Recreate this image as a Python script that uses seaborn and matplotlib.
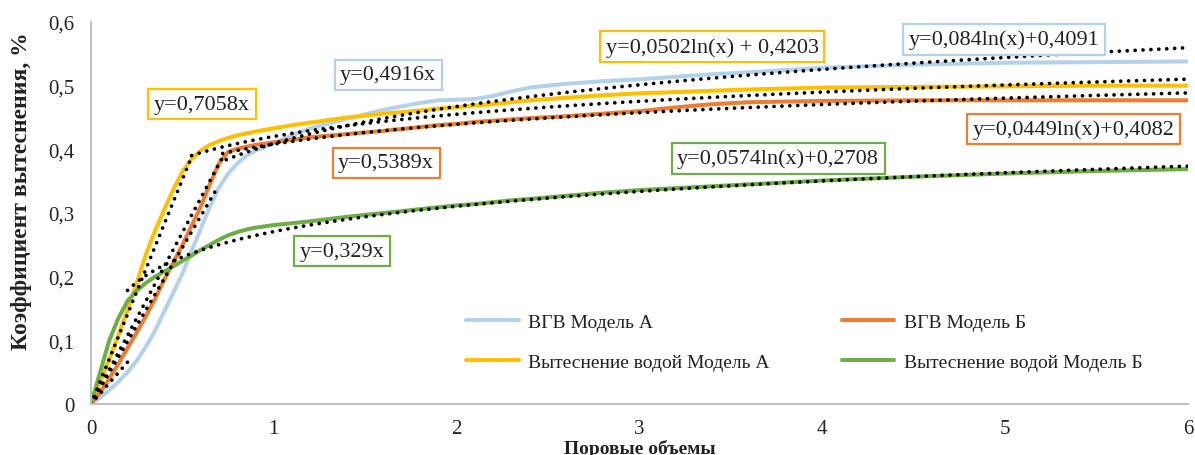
import numpy as np
import pandas as pd
import matplotlib
matplotlib.use("Agg")
import matplotlib.pyplot as plt
import seaborn as sns

# Pore volumes injected
pore_volumes = [0, 0.05, 0.1, 0.15, 0.2, 0.25, 0.3, 0.35, 0.4, 0.45, 0.5, 0.55, 0.6, 0.65,
                0.7, 0.75, 0.8, 0.85, 0.9, 1.0, 1.1, 1.2, 1.4, 1.6, 1.8, 1.9, 2.0, 2.1,
                2.2, 2.3, 2.4, 2.6, 2.8, 3.0, 3.2, 3.4, 3.6, 4.0, 4.5, 5.0, 5.5, 6.0]

# Displacement coefficient for each experiment
wag_model_a = [0, 0.01, 0.022, 0.035, 0.05, 0.068, 0.09, 0.115, 0.145, 0.175, 0.205, 0.24,
               0.275, 0.31, 0.34, 0.362, 0.378, 0.39, 0.398, 0.41, 0.422, 0.433, 0.448,
               0.462, 0.473, 0.477, 0.478, 0.479, 0.484, 0.491, 0.497, 0.503, 0.507, 0.51,
               0.514, 0.518, 0.521, 0.528, 0.533, 0.536, 0.537, 0.538]
water_model_a = [0, 0.035, 0.07, 0.108, 0.148, 0.19, 0.235, 0.272, 0.305, 0.337, 0.365,
                 0.385, 0.398, 0.407, 0.413, 0.418, 0.422, 0.425, 0.428, 0.433, 0.438,
                 0.442, 0.45, 0.456, 0.461, 0.464, 0.466, 0.469, 0.471, 0.474, 0.477,
                 0.481, 0.485, 0.488, 0.49, 0.492, 0.494, 0.497, 0.498, 0.499, 0.5, 0.5]
wag_model_b = [0, 0.018, 0.04, 0.063, 0.088, 0.112, 0.138, 0.165, 0.195, 0.222, 0.25, 0.28,
               0.31, 0.345, 0.378, 0.396, 0.401, 0.404, 0.407, 0.411, 0.415, 0.419, 0.424,
               0.429, 0.435, 0.438, 0.44, 0.443, 0.445, 0.447, 0.449, 0.452, 0.456, 0.46,
               0.466, 0.471, 0.474, 0.476, 0.477, 0.477, 0.477, 0.477]
water_model_b = [0, 0.05, 0.1, 0.135, 0.162, 0.178, 0.19, 0.2, 0.208, 0.216, 0.225, 0.233,
                 0.242, 0.25, 0.258, 0.265, 0.27, 0.274, 0.277, 0.281, 0.284, 0.287, 0.294,
                 0.3, 0.306, 0.309, 0.312, 0.314, 0.317, 0.32, 0.322, 0.327, 0.332, 0.336,
                 0.339, 0.342, 0.345, 0.351, 0.357, 0.362, 0.366, 0.369]

series_names = ["ВГВ Модель А", "Вытеснение водой Модель А",
                "ВГВ Модель Б", "Вытеснение водой Модель Б"]
series_values = [wag_model_a, water_model_a, wag_model_b, water_model_b]
series_colors = ["#B4D1EC", "#FFC000", "#ED7D31", "#70AD47"]

# Trend lines: linear y = k*x on the early stage, logarithmic y = a*ln(x) + b afterwards
lin_slope = [0.4916, 0.7058, 0.5389, 0.329]
lin_end = [0.68, 0.55, 0.72, 0.22]
log_a = [0.084, 0.0502, 0.0449, 0.0574]
log_b = [0.4091, 0.4203, 0.4082, 0.2708]
log_start = [0.74, 0.55, 0.72, 0.2]

lin_labels = ["y=0,4916x", "y=0,7058x", "y=0,5389x", "y=0,329x"]
log_labels = ["y=0,084ln(x)+0,4091", "y=0,0502ln(x) + 0,4203",
              "y=0,0449ln(x)+0,4082", "y=0,0574ln(x)+0,2708"]
lin_label_pos = [(1.625, 0.517), (0.607, 0.471), (1.614, 0.379), (1.373, 0.240)]
log_label_pos = [(4.995, 0.573), (3.397, 0.561), (5.372, 0.432), (3.758, 0.386)]

sns.set_style("white")
plt.rcParams["font.family"] = ["Liberation Serif", "DejaVu Serif"]

fig = plt.figure(figsize=(11.95, 4.56), dpi=100)
ax = fig.add_axes([91 / 1195, 51 / 456, 1097 / 1195, 382 / 456])

frames = []
for name, vals in zip(series_names, series_values):
    frames.append(pd.DataFrame({"x": pore_volumes, "y": vals, "series": name}))
df = pd.concat(frames, ignore_index=True)

sns.lineplot(data=df, x="x", y="y", hue="series", hue_order=series_names,
             palette=series_colors, linewidth=2.9, estimator=None, sort=False,
             ax=ax, legend=False)
for line in ax.lines:
    line.set_solid_capstyle("round")
    line.set_solid_joinstyle("round")

dot_style = dict(color="black", linewidth=2.7, linestyle=(0, (0.01, 2.1)),
                 dash_capstyle="round")
for k, xe, a, b, xs in zip(lin_slope, lin_end, log_a, log_b, log_start):
    xl = np.linspace(0, xe, 30)
    ax.plot(xl, k * xl, **dot_style)
    xg = np.linspace(xs, 6, 300)
    ax.plot(xg, a * np.log(xg) + b, **dot_style)

box_kw = dict(boxstyle="square,pad=0.25", facecolor="white", linewidth=1.6)
for labels, positions in ((lin_labels, lin_label_pos), (log_labels, log_label_pos)):
    for text, (tx, ty), col in zip(labels, positions, series_colors):
        ax.text(tx, ty, text, ha="center", va="center", fontsize=16, color="#222222",
                bbox=dict(edgecolor=col, **box_kw), zorder=5)

ax.set_xlim(0, 6)
ax.set_ylim(0, 0.6)
ax.set_xticks(range(0, 7))
ax.set_yticks([0, 0.1, 0.2, 0.3, 0.4, 0.5, 0.6])
ax.set_xticklabels([str(v) for v in range(0, 7)])
ax.set_yticklabels(["0", "0,1", "0,2", "0,3", "0,4", "0,5", "0,6"])
ax.tick_params(axis="both", labelsize=15, colors="#BFBFBF", labelcolor="#222222",
               length=5, width=1.2, direction="out")
ax.tick_params(axis="y", pad=7)
ax.tick_params(axis="x", pad=6)

for side in ("top", "right"):
    ax.spines[side].set_visible(False)
for side in ("left", "bottom"):
    ax.spines[side].set_color("#BFBFBF")
    ax.spines[side].set_linewidth(1.4)

ax.set_xlabel("Поровые объемы", fontsize=14, fontweight="bold", color="#222222")
ax.xaxis.set_label_coords(0.5, -0.091)
ax.xaxis.label.set_va("top")
ax.set_ylabel("Коэффициент вытеснения, %", fontsize=17, fontweight="bold",
              color="#222222")
ax.yaxis.set_label_coords(-0.063, 0.56)
ax.yaxis.label.set_va("center")

handles = [plt.Line2D([], [], color=c, linewidth=2.9) for c in series_colors]
leg = fig.legend(handles, series_names, loc="upper left",
                 bbox_to_anchor=(466 / 1195, 1 - 314 / 456), ncol=2, frameon=False,
                 fontsize=14, handlelength=2.7, handletextpad=0.5, columnspacing=3.7,
                 labelspacing=1.15, borderpad=0, borderaxespad=0)
for t in leg.get_texts():
    t.set_color("#222222")

fig.savefig("out.png", dpi=100)
